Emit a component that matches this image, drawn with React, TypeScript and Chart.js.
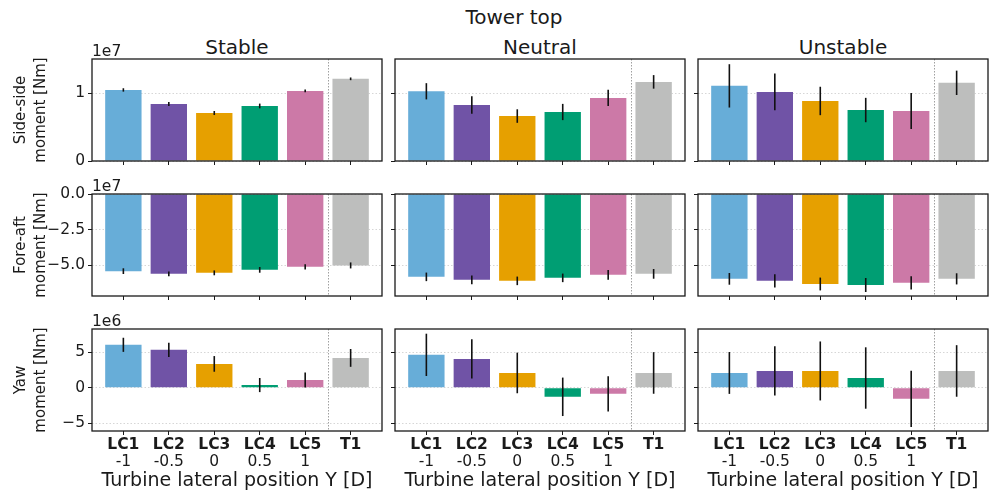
import React, { useEffect, useRef } from 'react';
import { Chart, registerables } from 'chart.js';

Chart.register(...registerables);
Chart.defaults.font.family = "'DejaVu Sans', sans-serif";
Chart.defaults.color = '#1a1a1a';

// ---------------- data ----------------
const categories = ['LC1', 'LC2', 'LC3', 'LC4', 'LC5', 'T1'];
const positions = ['-1', '-0.5', '0', '0.5', '1', ''];
const barColors = ['#67ADD8', '#7053A6', '#E6A000', '#009E73', '#CC79A7', '#BDBEBD'];
const columnTitles = ['Stable', 'Neutral', 'Unstable'];
const rowLabels = [['Side-side', 'moment [Nm]'], ['Fore-aft', 'moment [Nm]'], ['Yaw', 'moment [Nm]']];
const offsetTexts = ['1e7', '1e7', '1e6'];
const xLabel = 'Turbine lateral position Y [D]';
const figTitle = 'Tower top';
const separatorAt = 4.5;

const yMins = [0, -7.14e7, -6.07e6];
const yMaxs = [1.507e7, 0, 8.25e6];
const yTickValues = [[0, 1e7], [-5e7, -2.5e7, 0], [-5e6, 0, 5e6]];
const yTickLabels = [['0', '1'], ['\u22125.0', '\u22122.5', '0.0'], ['\u22125', '0', '5']];

const sideSideStable = [1.05e7, 0.842e7, 0.709e7, 0.813e7, 1.036e7, 1.214e7];
const sideSideStableErr = [0.025e7, 0.03e7, 0.03e7, 0.035e7, 0.02e7, 0.02e7];
const sideSideNeutral = [1.03e7, 0.828e7, 0.664e7, 0.724e7, 0.932e7, 1.169e7];
const sideSideNeutralErr = [0.12e7, 0.13e7, 0.1e7, 0.12e7, 0.12e7, 0.1e7];
const sideSideUnstable = [1.11e7, 1.021e7, 0.887e7, 0.753e7, 0.738e7, 1.155e7];
const sideSideUnstableErr = [0.32e7, 0.27e7, 0.21e7, 0.18e7, 0.265e7, 0.18e7];

const foreAftStable = [-5.4e7, -5.59e7, -5.52e7, -5.31e7, -5.1e7, -5.0e7];
const foreAftStableErr = [0.2e7, 0.17e7, 0.17e7, 0.2e7, 0.19e7, 0.21e7];
const foreAftNeutral = [-5.8e7, -6.01e7, -6.08e7, -5.87e7, -5.66e7, -5.59e7];
const foreAftNeutralErr = [0.3e7, 0.3e7, 0.3e7, 0.3e7, 0.34e7, 0.34e7];
const foreAftUnstable = [-5.94e7, -6.08e7, -6.3e7, -6.37e7, -6.22e7, -5.94e7];
const foreAftUnstableErr = [0.41e7, 0.46e7, 0.45e7, 0.49e7, 0.47e7, 0.39e7];

const yawStable = [6.03e6, 5.32e6, 3.35e6, 0.38e6, 1.09e6, 4.19e6];
const yawStableErr = [0.99e6, 0.99e6, 1.1e6, 0.99e6, 1.04e6, 1.25e6];
const yawNeutral = [4.62e6, 4.05e6, 2.08e6, -1.27e6, -0.85e6, 2.08e6];
const yawNeutralErr = [2.97e6, 2.75e6, 2.85e6, 2.7e6, 2.47e6, 2.92e6];
const yawUnstable = [2.08e6, 2.36e6, 2.36e6, 1.37e6, -1.55e6, 2.36e6];
const yawUnstableErr = [2.94e6, 3.46e6, 4.14e6, 4.31e6, 3.95e6, 3.62e6];

const values = [
  [sideSideStable, sideSideNeutral, sideSideUnstable],
  [foreAftStable, foreAftNeutral, foreAftUnstable],
  [yawStable, yawNeutral, yawUnstable],
];
const errors = [
  [sideSideStableErr, sideSideNeutralErr, sideSideUnstableErr],
  [foreAftStableErr, foreAftNeutralErr, foreAftUnstableErr],
  [yawStableErr, yawNeutralErr, yawUnstableErr],
];

// ---------------- layout ----------------
const PLOT_LEFT = [92, 395, 698];
const PLOT_W = 290;
const PLOT_TOP = [59, 194, 329];
const PLOT_H = 102;
const TOP_PAD = 22;
const RIGHT_PAD = 6;
const X_MIN = -0.69;
const X_MAX = 5.69;
const TEXT = '#1a1a1a';

function geometry(row: number, col: number) {
  const left = col === 0 ? 0 : PLOT_LEFT[col] - 12;
  const yW = PLOT_LEFT[col] - left;
  const w = yW + PLOT_W + RIGHT_PAD;
  const top = PLOT_TOP[row] - TOP_PAD;
  const xH = row < 2 ? 16 : 23;
  const h = row < 2 ? TOP_PAD + PLOT_H + xH : 496 - top;
  const x2H = h - TOP_PAD - PLOT_H - xH;
  return { left, yW, w, top, h, xH, x2H };
}

function Panel({ row, col }: { row: number; col: number }) {
  const ref = useRef<HTMLCanvasElement>(null);
  const g = geometry(row, col);

  useEffect(() => {
    const vals = values[row][col];
    const errs = errors[row][col];
    const tickSetter = (s: any) => {
      s.ticks = categories.map((_, i) => ({ value: i }));
    };

    const overlay = {
      id: 'overlay',
      afterDraw(chart: any) {
        const ctx = chart.ctx;
        const { left, right, top, bottom } = chart.chartArea;
        const xs = chart.scales.x;
        const ys = chart.scales.y;
        ctx.save();
        // separator
        ctx.strokeStyle = '#a0a0a0';
        ctx.lineWidth = 1;
        ctx.setLineDash([1.5, 1.5]);
        const sx = Math.round(xs.getPixelForValue(separatorAt)) + 0.5;
        ctx.beginPath();
        ctx.moveTo(sx, top);
        ctx.lineTo(sx, bottom);
        ctx.stroke();
        ctx.setLineDash([]);
        // error bars
        const meta = chart.getDatasetMeta(0);
        ctx.strokeStyle = '#111111';
        ctx.lineWidth = 1.6;
        meta.data.forEach((bar: any, i: number) => {
          const y1 = ys.getPixelForValue(vals[i] - errs[i]);
          const y2 = ys.getPixelForValue(vals[i] + errs[i]);
          ctx.beginPath();
          ctx.moveTo(bar.x, y1);
          ctx.lineTo(bar.x, y2);
          ctx.stroke();
        });
        // frame
        ctx.strokeStyle = TEXT;
        ctx.lineWidth = 1.3;
        ctx.strokeRect(left, top, right - left, bottom - top);
        // offset text
        if (col === 0) {
          ctx.fillStyle = TEXT;
          ctx.font = "15.5px 'DejaVu Sans', sans-serif";
          ctx.textAlign = 'left';
          ctx.textBaseline = 'middle';
          ctx.fillText(offsetTexts[row], left, top - 7);
        }
        ctx.restore();
      },
    };

    const scales: any = {
      x: {
        type: 'linear',
        min: X_MIN,
        max: X_MAX,
        offset: false,
        position: 'bottom',
        weight: 0,
        afterBuildTicks: tickSetter,
        afterFit: (s: any) => {
          s.height = g.xH;
        },
        ticks: {
          display: row === 2,
          autoSkip: false,
          maxRotation: 0,
          minRotation: 0,
          padding: 2.5,
          color: TEXT,
          font: { size: 15.5, weight: 'bold', lineHeight: 1 },
          callback: (v: number) => categories[Math.round(v)],
        },
        grid: {
          offset: false,
          drawOnChartArea: false,
          drawTicks: true,
          tickLength: 4,
          tickColor: TEXT,
          tickWidth: 1,
          tickBorderDash: [],
        },
        border: { display: false },
      },
      y: {
        type: 'linear',
        min: yMins[row],
        max: yMaxs[row],
        position: 'left',
        z: 1,
        afterBuildTicks: (s: any) => {
          s.ticks = yTickValues[row].map((v) => ({ value: v }));
        },
        afterFit: (s: any) => {
          s.width = g.yW;
        },
        ticks: {
          display: col === 0,
          padding: 3,
          color: TEXT,
          font: { size: 15.5, lineHeight: 1.2 },
          callback: (v: number) => {
            const idx = yTickValues[row].findIndex((t) => Math.abs(t - v) < 1);
            return idx >= 0 ? yTickLabels[row][idx] : '';
          },
        },
        grid: {
          color: '#d6d6d6',
          lineWidth: 1,
          drawTicks: true,
          tickLength: 4,
          tickColor: TEXT,
          tickWidth: 1,
          tickBorderDash: [],
        },
        border: { display: false, dash: [1.5, 2] },
        title: {
          display: col === 0,
          text: rowLabels[row],
          color: TEXT,
          font: { size: 15, lineHeight: 1.3 },
          padding: { top: 11.5, bottom: 0 },
        },
      },
    };

    if (row === 2) {
      scales.x2 = {
        type: 'linear',
        min: X_MIN,
        max: X_MAX,
        offset: false,
        position: 'bottom',
        weight: 1,
        afterBuildTicks: tickSetter,
        afterFit: (s: any) => {
          s.height = g.x2H;
        },
        ticks: {
          autoSkip: false,
          maxRotation: 0,
          minRotation: 0,
          padding: 0,
          color: TEXT,
          font: { size: 15.5, lineHeight: 1 },
          callback: (v: number) => positions[Math.round(v)],
        },
        grid: { display: false, drawTicks: false, offset: false },
        border: { display: false },
        title: {
          display: true,
          text: xLabel,
          color: TEXT,
          font: { size: 19, lineHeight: 1 },
          padding: { top: 0, bottom: 5 },
        },
      };
    }

    const chart = new Chart(ref.current as HTMLCanvasElement, {
      type: 'bar',
      data: {
        datasets: [
          {
            data: categories.map((_, i) => ({ x: i, y: vals[i] })) as any,
            backgroundColor: barColors,
            borderWidth: 0,
            barPercentage: 0.8,
            categoryPercentage: 1,
          },
        ],
      },
      options: {
        responsive: false,
        animation: false,
        devicePixelRatio: 1,
        layout: { padding: { top: TOP_PAD, right: RIGHT_PAD, left: 0, bottom: 0 } },
        plugins: {
          legend: { display: false },
          tooltip: { enabled: false },
          title: { display: false },
        },
        scales,
      } as any,
      plugins: [overlay],
    });
    return () => chart.destroy();
  }, [row, col]);

  return (
    <canvas
      ref={ref}
      width={g.w}
      height={g.h}
      style={{ position: 'absolute', left: g.left, top: g.top, width: g.w, height: g.h }}
    />
  );
}

const titleStyle: React.CSSProperties = {
  position: 'absolute',
  width: 200,
  textAlign: 'center',
  fontFamily: "'DejaVu Sans', sans-serif",
  fontSize: 20,
  lineHeight: '20px',
  color: TEXT,
  whiteSpace: 'nowrap',
};

export default function App() {
  const panels = [];
  for (let r = 0; r < 3; r++) {
    for (let c = 0; c < 3; c++) {
      panels.push(<Panel key={`${r}-${c}`} row={r} col={c} />);
    }
  }
  return (
    <div
      style={{
        position: 'absolute',
        left: 0,
        top: 0,
        width: 992,
        height: 496,
        background: '#ffffff',
        overflow: 'hidden',
      }}
    >
      <div style={{ ...titleStyle, left: 514 - 100, top: 7 }}>{figTitle}</div>
      {columnTitles.map((t, c) => (
        <div key={t} style={{ ...titleStyle, left: PLOT_LEFT[c] + PLOT_W / 2 - 100, top: 37 }}>
          {t}
        </div>
      ))}
      {panels}
    </div>
  );
}
